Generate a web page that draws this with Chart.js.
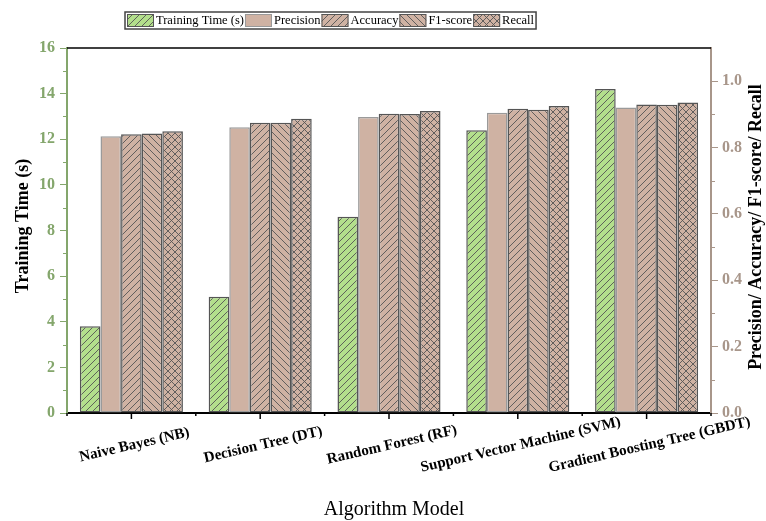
<!DOCTYPE html>
<html>
<head>
<meta charset="utf-8">
<script src="https://cdn.jsdelivr.net/npm/chart.js@4/dist/chart.umd.min.js"></script>
<style>
  body { margin: 0; background: #fff; }
  #wrap { width: 766px; height: 521px; }
</style>
</head>
<body>
<div id="wrap"><canvas id="algoChart" width="766" height="521"></canvas></div>
<script>
const categories = ["Naive Bayes (NB)", "Decision Tree (DT)", "Random Forest (RF)", "Support Vector Machine (SVM)", "Gradient Boosting Tree (GBDT)"];
const trainingTime = [3.8, 5.1, 8.6, 12.4, 14.2];
const precision = [0.834, 0.861, 0.892, 0.905, 0.921];
const accuracy = [0.840, 0.875, 0.902, 0.917, 0.930];
const f1Score = [0.842, 0.875, 0.901, 0.914, 0.929];
const recall = [0.849, 0.887, 0.910, 0.925, 0.936];
const leftTicks = [0, 2, 4, 6, 8, 10, 12, 14, 16];
const rightTicks = [0, 0.2, 0.4, 0.6, 0.8, 1.0];

const GREEN = "#b3df8c";
const TAN = "#cfb2a3";
const HATCH = "#555555";
const LEFT_COLOR = "#84a66c";
const RIGHT_COLOR = "#a8968a";
const SERIF = "'Liberation Serif', 'DejaVu Serif', serif";

function makePattern(bg, kind) {
  const s = 7;
  const c = document.createElement("canvas");
  c.width = s;
  c.height = s;
  const g = c.getContext("2d");
  g.fillStyle = bg;
  g.fillRect(0, 0, s, s);
  if (kind) {
    g.strokeStyle = HATCH;
    g.lineWidth = 0.9;
    g.beginPath();
    if (kind === "/" || kind === "x") {
      g.moveTo(-1, s + 1); g.lineTo(s + 1, -1);
    }
    if (kind === "\\" || kind === "x") {
      g.moveTo(-1, -1); g.lineTo(s + 1, s + 1);
    }
    g.stroke();
  }
  return g.createPattern(c, "repeat");
}

const extras = {
  id: "extras",
  afterDraw(chart) {
    const ctx = chart.ctx;
    const area = chart.chartArea;
    const x = chart.scales.x;
    const y = chart.scales.y;
    const y1 = chart.scales.y1;
    ctx.save();

    // top frame line
    ctx.strokeStyle = "#000";
    ctx.lineWidth = 1.5;
    ctx.beginPath();
    ctx.moveTo(area.left, area.top);
    ctx.lineTo(area.right, area.top);
    ctx.stroke();

    // minor ticks on y axes
    ctx.lineWidth = 1;
    ctx.strokeStyle = LEFT_COLOR;
    for (let v = 1; v < 16; v += 2) {
      const py = Math.round(y.getPixelForValue(v)) + 0.5;
      ctx.beginPath(); ctx.moveTo(area.left - 4, py); ctx.lineTo(area.left, py); ctx.stroke();
    }
    ctx.strokeStyle = RIGHT_COLOR;
    for (let v = 0.1; v < 1.05; v += 0.2) {
      const py = Math.round(y1.getPixelForValue(v)) + 0.5;
      ctx.beginPath(); ctx.moveTo(area.right, py); ctx.lineTo(area.right + 4, py); ctx.stroke();
    }

    // x ticks: major at centres, minor at boundaries
    ctx.strokeStyle = "#000";
    ctx.lineWidth = 1.5;
    categories.forEach((c, i) => {
      const px = x.getPixelForValue(i);
      ctx.beginPath(); ctx.moveTo(px, area.bottom); ctx.lineTo(px, area.bottom + 6); ctx.stroke();
    });
    const step = (area.right - area.left) / categories.length;
    for (let i = 0; i <= categories.length; i++) {
      const px = area.left + i * step;
      ctx.beginPath(); ctx.moveTo(px, area.bottom); ctx.lineTo(px, area.bottom + 3); ctx.stroke();
    }

    // x labels, rotated
    ctx.fillStyle = "#000";
    ctx.font = "bold 15px " + SERIF;
    ctx.textAlign = "center";
    ctx.textBaseline = "middle";
    categories.forEach((c, i) => {
      ctx.save();
      ctx.translate(x.getPixelForValue(i) + 3, area.bottom + 32);
      ctx.rotate(-13 * Math.PI / 180);
      ctx.fillText(c, 0, 0);
      ctx.restore();
    });

    // axis titles
    ctx.font = "20px " + SERIF;
    ctx.fillText("Algorithm Model", (area.left + area.right) / 2 + 5, 510);
    ctx.font = "bold 18px " + SERIF;
    ctx.save();
    ctx.translate(23, 226);
    ctx.rotate(-Math.PI / 2);
    ctx.fillText("Training Time (s)", 0, 0);
    ctx.restore();
    ctx.save();
    ctx.translate(756, 227);
    ctx.rotate(-Math.PI / 2);
    ctx.fillText("Precision/ Accuracy/ F1-score/ Recall", 0, 0);
    ctx.restore();

    // legend
    ctx.font = "12.5px " + SERIF;
    ctx.textAlign = "left";
    let lx = 127;
    const items = chart.data.datasets.map((d) => {
      return { d, w: ctx.measureText(d.label).width };
    });
    const total = items.reduce((s, it) => s + 27 + 2 + it.w + 1, 0);
    ctx.fillStyle = "#fff";
    ctx.fillRect(125, 12, total + 3, 17);
    ctx.strokeStyle = "#444";
    ctx.lineWidth = 1.5;
    ctx.strokeRect(125, 12, total + 3, 17);
    items.forEach((it) => {
      ctx.fillStyle = it.d.backgroundColor;
      ctx.fillRect(lx, 14, 27, 13);
      ctx.strokeStyle = it.d.label === "Precision" ? "#999" : "#555";
      ctx.lineWidth = 1;
      ctx.strokeRect(lx + 0.5, 14.5, 26, 12);
      ctx.fillStyle = "#000";
      ctx.fillText(it.d.label, lx + 29, 21);
      lx += 27 + 2 + it.w + 1;
    });

    ctx.restore();
  }
};

const barStyle = {
  borderWidth: 1.5,
  borderSkipped: false,
  categoryPercentage: 0.8,
  barPercentage: 1.0
};

new Chart(document.getElementById("algoChart"), {
  type: "bar",
  data: {
    labels: categories,
    datasets: [
      { label: "Training Time (s)", data: trainingTime, yAxisID: "y", backgroundColor: makePattern(GREEN, "/"), borderColor: "#555555", ...barStyle },
      { label: "Precision", data: precision, yAxisID: "y1", backgroundColor: makePattern(TAN, null), borderColor: "#9a9a9a", ...barStyle },
      { label: "Accuracy", data: accuracy, yAxisID: "y1", backgroundColor: makePattern(TAN, "/"), borderColor: "#555555", ...barStyle },
      { label: "F1-score", data: f1Score, yAxisID: "y1", backgroundColor: makePattern(TAN, "\\"), borderColor: "#555555", ...barStyle },
      { label: "Recall", data: recall, yAxisID: "y1", backgroundColor: makePattern(TAN, "x"), borderColor: "#555555", ...barStyle }
    ]
  },
  options: {
    responsive: false,
    animation: false,
    layout: { padding: { top: 48, left: 0, right: 0, bottom: 0 } },
    plugins: {
      legend: { display: false },
      tooltip: { enabled: false }
    },
    scales: {
      x: {
        grid: { display: false },
        border: { display: true, color: "#000", width: 2 },
        ticks: { display: false },
        afterFit: (s) => { s.height = 108; }
      },
      y: {
        position: "left",
        min: 0,
        max: 16,
        afterBuildTicks: (s) => { s.ticks = leftTicks.map((v) => ({ value: v })); },
        afterFit: (s) => { s.width = 67; },
        grid: { drawOnChartArea: false, color: LEFT_COLOR, tickLength: 7, lineWidth: 1 },
        border: { color: LEFT_COLOR, width: 2 },
        ticks: { color: LEFT_COLOR, padding: 5, font: { family: SERIF, size: 16, weight: "bold" } }
      },
      y1: {
        position: "right",
        min: 0,
        max: 1.1,
        afterBuildTicks: (s) => { s.ticks = rightTicks.map((v) => ({ value: v })); },
        afterFit: (s) => { s.width = 55; },
        grid: { drawOnChartArea: false, color: RIGHT_COLOR, tickLength: 7, lineWidth: 1 },
        border: { color: RIGHT_COLOR, width: 2 },
        ticks: {
          color: RIGHT_COLOR,
          padding: 4,
          font: { family: SERIF, size: 16, weight: "bold" },
          callback: (v) => Number(v).toFixed(1)
        }
      }
    }
  },
  plugins: [extras]
});
</script>
</body>
</html>
